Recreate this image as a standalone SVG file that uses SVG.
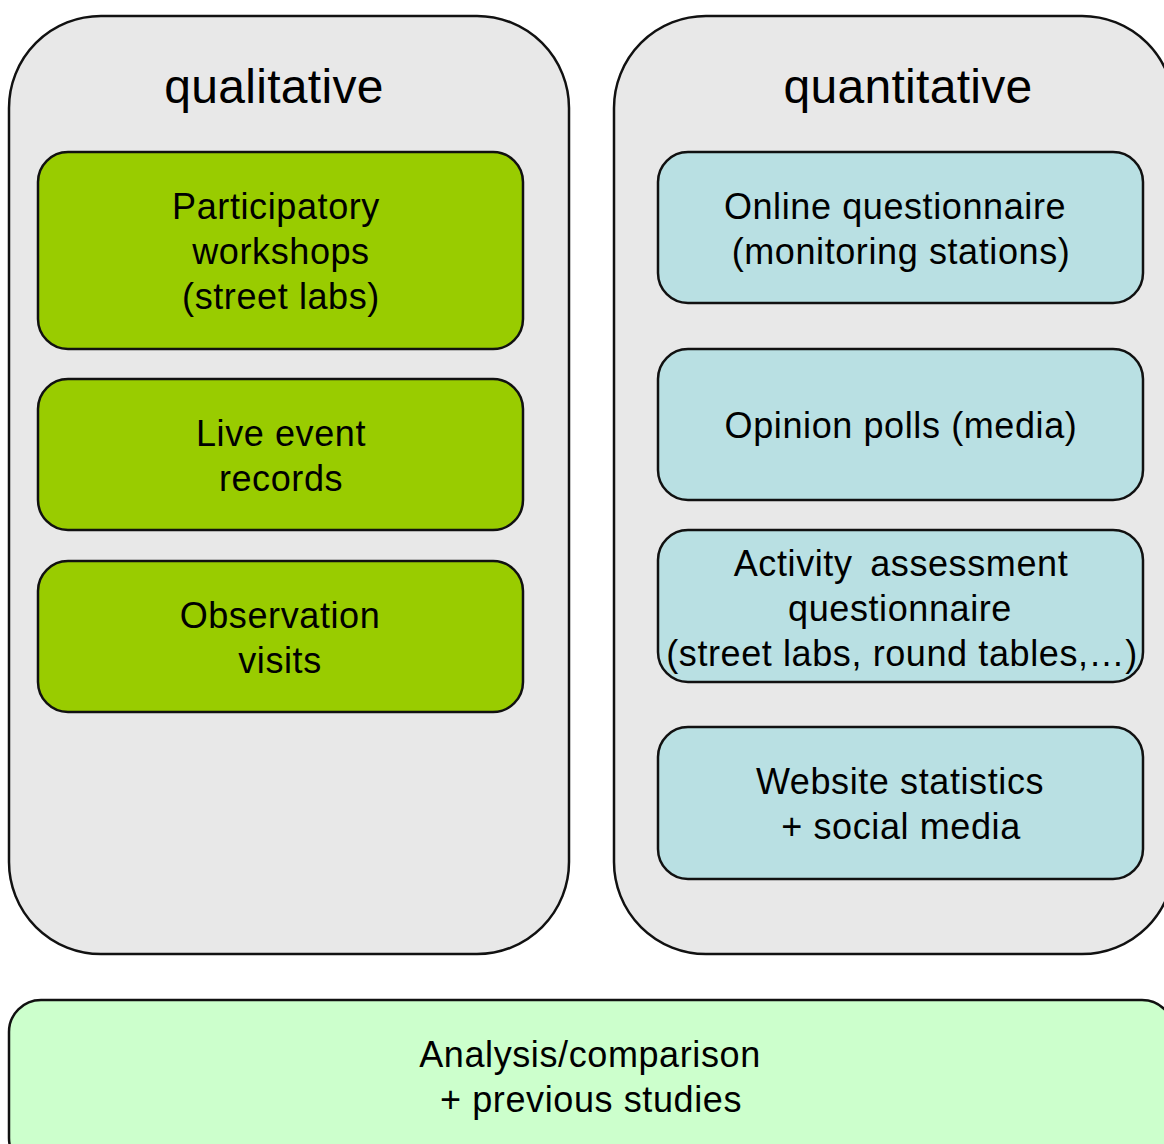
<svg xmlns="http://www.w3.org/2000/svg" width="1164" height="1144" viewBox="0 0 1164 1144">
  <style>
    .panel { fill: #e8e8e8; stroke: #111; stroke-width: 2.5; }
    .qual { fill: #99cc00; stroke: #111; stroke-width: 2.5; }
    .quant { fill: #b9e0e3; stroke: #111; stroke-width: 2.5; }
    .summary { fill: #ccffcc; stroke: #111; stroke-width: 2.5; }
    text { font-family: "Liberation Sans", Arial, sans-serif; fill: #000; text-anchor: middle; }
    .title { font-size: 48px; letter-spacing: 0.3px; }
    .label { font-size: 36px; letter-spacing: 0.6px; }
  </style>

  <!-- column panels -->
  <g id="panel-qualitative">
    <rect class="panel" x="9" y="16" width="560" height="938" rx="92" ry="92"/>
    <text class="title" x="274" y="103">qualitative</text>
  </g>
  <g id="panel-quantitative">
    <rect class="panel" x="614" y="16" width="560" height="938" rx="92" ry="92"/>
    <text class="title" x="908" y="103">quantitative</text>
  </g>

  <!-- qualitative methods -->
  <g id="participatory-workshops">
    <rect class="qual" x="38" y="152" width="485" height="197" rx="30" ry="30"/>
    <text class="label" x="276" y="219">Participatory</text>
    <text class="label" x="281" y="264">workshops</text>
    <text class="label" x="281" y="309">(street labs)</text>
  </g>
  <g id="live-event-records">
    <rect class="qual" x="38" y="379" width="485" height="151" rx="30" ry="30"/>
    <text class="label" x="281" y="446">Live event</text>
    <text class="label" x="281" y="491">records</text>
  </g>
  <g id="observation-visits">
    <rect class="qual" x="38" y="561" width="485" height="151" rx="30" ry="30"/>
    <text class="label" x="280" y="628">Observation</text>
    <text class="label" x="280" y="673">visits</text>
  </g>

  <!-- quantitative methods -->
  <g id="online-questionnaire">
    <rect class="quant" x="658" y="152" width="485" height="151" rx="30" ry="30"/>
    <text class="label" x="895" y="219">Online questionnaire</text>
    <text class="label" x="901" y="264">(monitoring stations)</text>
  </g>
  <g id="opinion-polls">
    <rect class="quant" x="658" y="349" width="485" height="151" rx="30" ry="30"/>
    <text class="label" x="901" y="438">Opinion polls (media)</text>
  </g>
  <g id="activity-assessment">
    <rect class="quant" x="658" y="530" width="485" height="152" rx="30" ry="30"/>
    <text class="label" x="901" y="576" style="word-spacing:7px">Activity assessment</text>
    <text class="label" x="900" y="621">questionnaire</text>
    <text class="label" x="902" y="666">(street labs, round tables,…)</text>
  </g>
  <g id="website-statistics">
    <rect class="quant" x="658" y="727" width="485" height="152" rx="30" ry="30"/>
    <text class="label" x="900" y="794">Website statistics</text>
    <text class="label" x="901" y="839">+ social media</text>
  </g>

  <!-- synthesis -->
  <g id="analysis">
    <rect class="summary" x="9" y="1000" width="1165" height="170" rx="32" ry="32"/>
    <text class="label" x="590" y="1067">Analysis/comparison</text>
    <text class="label" x="591" y="1112">+ previous studies</text>
  </g>

  <g id="connectors"/>
</svg>
